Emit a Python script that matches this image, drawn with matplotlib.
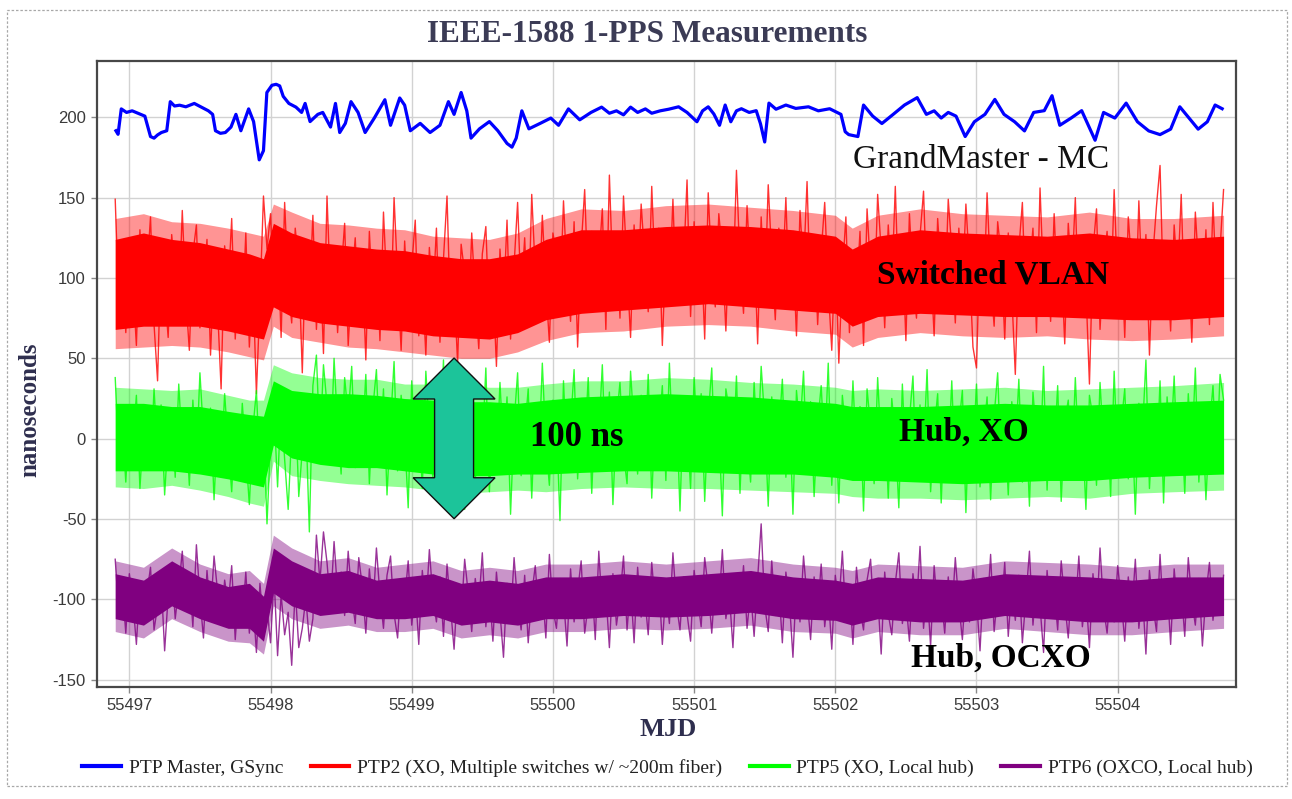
import numpy as np
import matplotlib
matplotlib.use("Agg")
import matplotlib.pyplot as plt
from matplotlib.lines import Line2D
from matplotlib.patches import Polygon, Rectangle

# ---------------------------------------------------------------- data
# PTP master (GSync) 1-PPS offset, MJD vs ns
master_mjd = [
    55496.905, 55496.920, 55496.943, 55496.980, 55497.020, 55497.060, 55497.110, 55497.150,
    55497.175, 55497.200, 55497.227, 55497.265, 55497.290, 55497.320, 55497.356, 55497.400,
    55497.460, 55497.510, 55497.560, 55497.590, 55497.610, 55497.645, 55497.680, 55497.720,
    55497.755, 55497.790, 55497.845, 55497.880, 55497.920, 55497.950, 55497.974, 55498.010,
    55498.040, 55498.065, 55498.090, 55498.130, 55498.180, 55498.220, 55498.245, 55498.280,
    55498.335, 55498.370, 55498.425, 55498.460, 55498.490, 55498.530, 55498.570, 55498.620,
    55498.670, 55498.735, 55498.810, 55498.850, 55498.915, 55498.950, 55498.990, 55499.060,
    55499.130, 55499.200, 55499.260, 55499.300, 55499.350, 55499.390, 55499.420, 55499.480,
    55499.550, 55499.610, 55499.675, 55499.710, 55499.740, 55499.780, 55499.830, 55499.910,
    55499.985, 55500.040, 55500.110, 55500.190, 55500.270, 55500.345, 55500.400, 55500.450,
    55500.500, 55500.550, 55500.600, 55500.655, 55500.700, 55500.760, 55500.820, 55500.890,
    55500.950, 55501.020, 55501.060, 55501.100, 55501.140, 55501.180, 55501.220, 55501.260,
    55501.300, 55501.335, 55501.390, 55501.440, 55501.470, 55501.500, 55501.530, 55501.580,
    55501.650, 55501.720, 55501.810, 55501.880, 55501.960, 55502.040, 55502.070, 55502.095,
    55502.160, 55502.200, 55502.265, 55502.330, 55502.410, 55502.490, 55502.580, 55502.645,
    55502.700, 55502.750, 55502.800, 55502.855, 55502.920, 55502.985, 55503.060, 55503.130,
    55503.195, 55503.270, 55503.340, 55503.405, 55503.480, 55503.535, 55503.590, 55503.670,
    55503.745, 55503.840, 55503.900, 55503.980, 55504.060, 55504.140, 55504.220, 55504.300,
    55504.375, 55504.440, 55504.505, 55504.570, 55504.635, 55504.690, 55504.740,
]
master_ns = [
    191.6, 189.4, 205.2, 203.0, 204.0, 202.5, 200.7, 188.0,
    187.0, 189.0, 190.5, 191.6, 209.7, 207.0, 207.5, 206.5,
    208.6, 206.3, 204.0, 201.8, 191.6, 190.0, 190.5, 193.9,
    201.8, 191.6, 205.2, 197.3, 173.5, 179.2, 215.4, 219.9,
    220.5, 219.5, 213.0, 208.6, 206.3, 203.0, 208.6, 197.3,
    201.8, 203.0, 193.9, 208.6, 190.5, 196.2, 209.7, 203.0,
    190.5, 199.5, 210.9, 195.0, 212.0, 207.5, 191.6, 196.2,
    190.5, 195.0, 209.7, 201.8, 215.4, 204.0, 187.0, 192.8,
    197.3, 191.6, 183.7, 181.4, 187.0, 204.0, 192.8, 196.2,
    199.5, 195.0, 205.2, 198.4, 203.0, 206.3, 202.5, 204.0,
    201.5, 206.3, 203.0, 205.2, 202.5, 204.0, 205.0, 206.5,
    203.0, 197.2, 204.0, 206.5, 202.0, 195.0, 207.6, 197.2,
    204.0, 205.3, 203.0, 204.1, 196.0, 184.6, 208.8, 205.0,
    207.6, 205.5, 206.5, 204.0, 205.3, 201.8, 191.0, 189.2,
    188.0, 207.6, 200.7, 196.1, 201.8, 207.6, 212.2, 201.8,
    204.0, 199.5, 203.0, 200.7, 188.0, 197.2, 201.8, 211.1,
    201.8, 197.2, 191.5, 203.0, 204.1, 213.4, 195.0, 199.5,
    204.1, 185.7, 203.0, 199.5, 208.8, 197.2, 191.5, 189.2,
    192.6, 206.5, 199.5, 192.6, 197.2, 207.6, 205.3,
]

# Band of the slave traces: dense core and the looser outer fringe, MJD vs ns
core_mjd = [
    55496.90, 55497.10, 55497.30, 55497.50, 55497.70, 55497.85, 55497.95, 55498.02,
    55498.15, 55498.35, 55498.55, 55498.75, 55498.95, 55499.15, 55499.35, 55499.55,
    55499.75, 55499.95, 55500.20, 55500.50, 55500.80, 55501.10, 55501.40, 55501.70,
    55502.00, 55502.12, 55502.30, 55502.60, 55502.90, 55503.20, 55503.50, 55503.80,
    55504.10, 55504.40, 55504.75,
]
ptp2_hi = [124, 128, 124, 122, 118, 115, 112, 134, 128, 122, 120, 118, 117, 114, 112, 112,
           115, 124, 130, 130, 132, 133, 132, 130, 126, 118, 126, 130, 128, 127, 126, 128,
           125, 124, 126]
ptp2_lo = [68, 70, 70, 70, 67, 64, 62, 82, 76, 72, 70, 68, 67, 64, 63, 62,
           66, 74, 78, 80, 82, 84, 82, 80, 78, 70, 76, 78, 77, 76, 76, 75,
           74, 74, 76]
ptp2_fringe_hi = [137, 140, 135, 134, 131, 128, 126, 146, 141, 134, 133, 131, 130, 126, 125, 124,
                  128, 137, 143, 142, 145, 146, 144, 142, 139, 131, 139, 143, 140, 139, 138, 141,
                  137, 137, 139]
ptp2_fringe_lo = [56, 57, 58, 57, 54, 51, 49, 70, 63, 60, 57, 56, 54, 52, 50, 50,
                  54, 61, 66, 67, 70, 71, 70, 67, 65, 57, 63, 66, 64, 63, 64, 62,
                  61, 62, 64]
ptp5_hi = [22, 22, 20, 20, 17, 15, 14, 36, 30, 28, 28, 27, 25, 24, 23, 23,
           22, 24, 26, 27, 28, 27, 26, 24, 22, 20, 20, 20, 21, 22, 21, 21,
           22, 23, 24]
ptp5_lo = [-20, -20, -20, -22, -25, -28, -30, -4, -12, -16, -18, -18, -20, -22, -23, -23,
           -22, -22, -21, -20, -20, -21, -22, -22, -24, -26, -26, -27, -28, -27, -26, -26,
           -24, -23, -22]
ptp5_fringe_hi = [32, 31, 30, 31, 27, 24, 24, 46, 41, 38, 37, 37, 34, 34, 33, 32,
                  32, 34, 36, 36, 38, 37, 35, 34, 32, 30, 31, 30, 31, 32, 30, 31,
                  32, 33, 35]
ptp5_fringe_lo = [-30, -31, -29, -32, -36, -40, -42, -14, -23, -26, -28, -29, -30, -32, -34, -33,
                  -32, -33, -31, -30, -31, -31, -32, -33, -34, -36, -37, -37, -38, -37, -36, -37,
                  -34, -33, -32]
ptp6_hi = [-84, -88, -76, -86, -92, -90, -98, -68, -76, -84, -82, -88, -86, -84, -90, -88,
           -90, -86, -86, -84, -86, -84, -82, -86, -88, -90, -86, -87, -88, -84, -85, -86,
           -88, -86, -86]
ptp6_lo = [-112, -116, -104, -112, -118, -118, -126, -96, -104, -110, -108, -112, -112, -110, -116, -114,
           -116, -112, -112, -110, -111, -110, -108, -112, -113, -116, -112, -114, -114, -110, -112, -114,
           -114, -112, -110]
ptp6_fringe_hi = [-76, -80, -68, -78, -84, -82, -90, -60, -68, -76, -74, -80, -78, -76, -82, -80,
                  -82, -78, -78, -76, -78, -76, -74, -78, -80, -82, -78, -79, -80, -76, -77, -78,
                  -80, -78, -78]
ptp6_fringe_lo = [-120, -124, -112, -120, -126, -127, -134, -104, -112, -118, -116, -120, -120, -118, -124, -122,
                  -124, -120, -120, -118, -119, -118, -116, -120, -121, -124, -120, -122, -122, -118, -120, -122,
                  -122, -120, -118]

# Individual readings, evenly spaced from the first to the last sample time
sample_first, sample_last = 55496.90, 55504.75
ptp2_ns = [
    149, 84, 112, 66, 121, 97, 58, 130, 76, 104, 138, 71, 36, 118, 92,
    63, 127, 101, 79, 142, 88, 55, 115, 133, 69, 96, 124, 52, 109, 81,
    31, 120, 93, 137, 62, 105, 74, 128, 57, 99, 28, 86, 151, 118, 140,
    83, 126, 63, 147, 95, 72, 131, 108, 41, 122, 87, 139, 68, 114, 53,
    151, 90, 119, 66, 103, 134, 58, 97, 125, 73, 110, 49, 129, 84, 117,
    61, 141, 92, 70, 150, 101, 55, 123, 79, 107, 136, 64, 98, 52, 119,
    86, 131, 60, 112, 151, 74, 95, 47, 121, 103, 67, 128, 89, 56, 115,
    132, 71, 99, 45, 118, 83, 136, 62, 108, 147, 88, 125, 70, 152, 104,
    78, 139, 95, 60, 128, 114, 84, 148, 101, 73, 135, 57, 119, 155, 92,
    129, 80, 110, 143, 68, 164, 98, 122, 75, 151, 106, 63, 133, 89, 146,
    112, 79, 157, 100, 131, 58, 118, 91, 149, 84, 127, 108, 161, 76, 135,
    97, 120, 62, 153, 105, 82, 140, 115, 67, 129, 93, 167, 110, 78, 145,
    102, 124, 59, 138, 88, 158, 113, 74, 131, 97, 150, 81, 119, 64, 142,
    106, 160, 85, 127, 71, 116, 147, 94, 55, 120, 47, 103, 138, 66, 112,
    89, 129, 58, 143, 104, 79, 152, 117, 69, 133, 95, 157, 84, 122, 61,
    140, 99, 75, 126, 154, 87, 110, 64, 137, 103, 81, 149, 118, 72, 131,
    92, 146, 108, 57, 44, 123, 85, 153, 100, 70, 135, 114, 62, 128, 90,
    40, 118, 147, 79, 105, 131, 66, 156, 97, 121, 73, 140, 88, 112, 59,
    134, 101, 150, 77, 124, 94, 34, 117, 143, 68, 109, 129, 82, 155, 96,
    120, 63, 138, 106, 75, 148, 91, 127, 52, 115, 145, 170, 86, 111, 67,
    133, 99, 152, 78, 122, 60, 141, 104, 87, 130, 71, 147, 93, 118, 155,
]
ptp5_ns = [
    38, -12, 9, -27, 18, -3, 27, -31, 5, 14, -19, 31, -8, 21, -35,
    2, 16, -24, 34, -6, 11, -29, 24, -14, 41, 3, -22, 19, -38, 8,
    -17, 28, -4, -33, 13, -26, 22, -9, -41, 6, 30, -21, 10, -53, -2,
    17, -30, 24, -13, -44, 4, 25, -36, -7, 12, -58, 33, 52, -5, 46,
    21, -14, 50, 8, -22, 38, 14, 45, -18, 26, -3, 40, -28, 19, 43,
    -11, 31, -35, 9, 48, -20, 27, 2, -43, 36, -9, 16, -31, 42, 5,
    -24, 29, -2, 49, -38, 12, 33, -16, 22, -44, 7, 39, -27, 18, -6,
    44, -33, 14, -19, 35, -8, 26, -47, 10, 41, -23, 4, 31, -37, 20,
    -12, 47, -3, -29, 24, 11, -51, 36, -16, 8, 43, -25, 17, -5, 38,
    -34, 21, 2, 46, -18, 29, -41, 12, 35, -9, -28, 42, 6, -22, 27,
    -14, 40, -37, 15, 4, 33, -26, 47, -7, 19, -45, 24, 9, -31, 38,
    -3, 28, -39, 14, 44, -21, 7, -48, 31, 17, -12, 39, -34, 22, 1,
    -27, 35, -8, 45, 12, -42, 26, -15, 3, 37, -24, 18, -47, 30, 6,
    42, -19, 23, -36, 9, 33, -10, 47, -29, 15, -40, 27, 4, -22, 36,
    -13, 20, -45, 31, 7, -28, 38, -6, 17, -37, 25, 2, -43, 34, -18,
    12, 39, -26, 21, -9, 43, -33, 5, 28, -40, 16, -15, 36, -24, 8,
    30, -46, 19, -11, 34, -30, 3, 26, -38, 14, 41, -20, 10, -35, 23,
    -7, 37, -27, 15, -42, 29, 1, -18, 45, -32, 20, -8, 33, -39, 11,
    24, -22, 38, -13, 6, -44, 27, 13, -29, 35, -4, 19, -36, 42, -16,
    9, 31, -25, 16, -47, 22, 3, 49, -31, 12, -19, 36, -40, 26, -6,
    39, -21, 14, -34, 28, -10, 44, -27, 18, -38, 7, 33, -15, 40, 24,
]
ptp6_ns = [
    -75, -108, -92, -121, -84, -101, -128, -89, -115, -96, -80, -119, -104, -87, -132,
    -98, -78, -112, -93, -70, -106, -85, -117, -66, -99, -124, -82, -109, -73, -95,
    -116, -88, -103, -79, -125, -94, -113, -83, -121, -100, -133, -90, -117, -105, -127,
    -86, -135, -97, -122, -108, -141, -93, -130, -118, -99, -126, -112, -60, -89, -58,
    -77, -104, -64, -95, -83, -110, -70, -98, -115, -74, -92, -121, -81, -106, -68,
    -97, -118, -85, -73, -109, -124, -88, -101, -76, -116, -93, -128, -82, -107, -69,
    -99, -114, -86, -123, -78, -105, -131, -92, -111, -75, -96, -120, -87, -104, -71,
    -117, -94, -126, -83, -108, -136, -90, -113, -74, -102, -119, -85, -127, -97, -79,
    -110, -93, -124, -72, -106, -118, -87, -99, -129, -81, -114, -95, -76, -121, -103,
    -88, -125, -70, -107, -96, -130, -84, -116, -100, -73, -119, -91, -127, -80, -111,
    -98, -122, -77, -105, -89, -128, -94, -115, -71, -103, -119, -86, -109, -126, -82,
    -100, -117, -74, -93, -121, -88, -106, -69, -112, -97, -130, -84, -108, -79, -118,
    -95, -123, -87, -53, -104, -120, -76, -110, -92, -127, -83, -101, -136, -89, -114,
    -73, -99, -125, -86, -108, -78, -117, -96, -131, -85, -104, -70, -113, -91, -128,
    -80, -106, -119, -88, -75, -112, -97, -134, -83, -109, -122, -90, -71, -115, -101,
    -126, -84, -105, -67, -118, -93, -129, -79, -107, -98, -121, -86, -111, -74, -103,
    -125, -90, -114, -81, -100, -132, -87, -109, -72, -120, -96, -108, -77, -123, -92,
    -113, -85, -127, -99, -70, -116, -89, -104, -133, -82, -110, -94, -119, -76, -102,
    -124, -88, -107, -73, -117, -97, -130, -84, -111, -68, -105, -121, -91, -114, -79,
    -100, -126, -86, -109, -75, -118, -95, -134, -82, -104, -120, -72, -112, -90, -128,
    -81, -106, -93, -123, -74, -101, -116, -87, -129, -97, -77, -113, -92, -108, -85,
]

series_labels = ["PTP Master, GSync",
                 "PTP2 (XO, Multiple switches w/ ~200m fiber)",
                 "PTP5 (XO, Local hub)",
                 "PTP6 (OXCO, Local hub)"]
series_colors = ["#0000ff", "#ff0000", "#00ff00", "#800080"]

x_ticks = [55497, 55498, 55499, 55500, 55501, 55502, 55503, 55504]
y_ticks = [-150, -100, -50, 0, 50, 100, 150, 200]

arrow_span_ns = 100          # the "100 ns" scale marker

# ---------------------------------------------------------------- figure
SERIF = "Liberation Serif"
SANS = "Liberation Sans"

W, H = 1292, 799
fig = plt.figure(figsize=(W / 100, H / 100), dpi=100)
fig.patch.set_facecolor("white")

# dashed outer border
fig.patches.append(Rectangle((7 / W, 1 - 786 / H), 1280 / W, 776 / H,
                             transform=fig.transFigure, fill=False,
                             ec="#a8a8a8", lw=0.9, ls=(0, (2, 1.5))))

ax = fig.add_axes([97 / W, 1 - 687 / H, 1139 / W, 626 / H])
ax.set_xlim(55496.771, 55504.838)
ax.set_ylim(-154.5, 235.0)


def draw_noisy(color, hi, lo, fringe_hi, fringe_lo, values):
    """Dense core, lighter fringe, and the sample trace on top."""
    ax.fill_between(core_mjd, fringe_lo, fringe_hi, color=color, alpha=0.42,
                    lw=0, zorder=2)
    ax.fill_between(core_mjd, lo, hi, color=color, lw=0, zorder=2)
    t = np.linspace(sample_first, sample_last, len(values))
    ax.plot(t, values, color=color, lw=1.0, alpha=0.8, zorder=2)


ax.plot(master_mjd, master_ns, color=series_colors[0], lw=2.3, zorder=3)
draw_noisy(series_colors[1], ptp2_hi, ptp2_lo, ptp2_fringe_hi, ptp2_fringe_lo, ptp2_ns)
draw_noisy(series_colors[2], ptp5_hi, ptp5_lo, ptp5_fringe_hi, ptp5_fringe_lo, ptp5_ns)
draw_noisy(series_colors[3], ptp6_hi, ptp6_lo, ptp6_fringe_hi, ptp6_fringe_lo, ptp6_ns)

# axes styling
ax.set_xticks(x_ticks)
ax.set_yticks(y_ticks)
ax.set_xticklabels([str(v) for v in x_ticks])
ax.set_yticklabels([str(v) for v in y_ticks])
ax.grid(True, color="#d2d2d2", lw=1.0)
ax.set_axisbelow(True)
for s in ax.spines.values():
    s.set_color("#474747")
    s.set_linewidth(1.6)
ax.tick_params(direction="out", length=4, width=1, color="#8a8a8a",
               labelsize=12, labelcolor="#3a3a3a", pad=4)
for lab in ax.get_xticklabels() + ax.get_yticklabels():
    lab.set_fontfamily(SANS)

# double-headed scale arrow
ax_c = 55499.30
mid_y = 0.2
top = mid_y + arrow_span_ns / 2
bot = mid_y - arrow_span_ns / 2
head_w, shaft_w, head_h = 0.29, 0.138, 25.5
arrow_xy = [
    (ax_c, top), (ax_c + head_w, top - head_h), (ax_c + shaft_w, top - head_h),
    (ax_c + shaft_w, bot + head_h), (ax_c + head_w, bot + head_h), (ax_c, bot),
    (ax_c - head_w, bot + head_h), (ax_c - shaft_w, bot + head_h),
    (ax_c - shaft_w, top - head_h), (ax_c - head_w, top - head_h),
]
ax.add_patch(Polygon(arrow_xy, closed=True, fc="#1cc49a", ec="#101010",
                     lw=1.0, zorder=5))
ax.text(55500.17, 1, f"{arrow_span_ns} ns", ha="center", va="center",
        fontsize=25, fontweight="bold", family=SERIF, color="black", zorder=6)

# trace annotations
ax.text(55503.03, 173.4, "GrandMaster - MC", ha="center", va="center",
        fontsize=24, family=SERIF, color="#111111", zorder=6)
ax.text(55503.117, 101.9, "Switched VLAN", ha="center", va="center",
        fontsize=24, fontweight="bold", family=SERIF, color="black", zorder=6)
ax.text(55502.91, 4.2, "Hub, XO", ha="center", va="center",
        fontsize=24, fontweight="bold", family=SERIF, color="black", zorder=6)
ax.text(55503.17, -136.5, "Hub, OCXO", ha="center", va="center",
        fontsize=24, fontweight="bold", family=SERIF, color="black", zorder=6)

# titles
fig.text(647.5 / W, 1 - 35 / H, "IEEE-1588 1-PPS Measurements", ha="center",
         va="center", fontsize=22.5, fontweight="bold", family=SERIF, color="#3b3b55")
fig.text(668 / W, 1 - 730 / H, "MJD", ha="center", va="center", fontsize=19,
         fontweight="bold", family=SERIF, color="#2e2e4e")
fig.text(30 / W, 1 - 410 / H, "nanoseconds", ha="center", va="center",
         rotation=90, fontsize=18, fontweight="bold", family=SERIF, color="#2e2e4e")

# legend
handles = [Line2D([], [], color=c, lw=3) for c in series_colors]
fig.legend(handles, series_labels, loc="center", bbox_to_anchor=(667.5 / W, 1 - 768 / H),
           ncol=4, frameon=False, prop={"family": SERIF, "size": 14},
           handlelength=2.0, handletextpad=0.4, columnspacing=1.4,
           labelcolor="#222222")

fig.savefig("out.png", dpi=100, facecolor="white")
